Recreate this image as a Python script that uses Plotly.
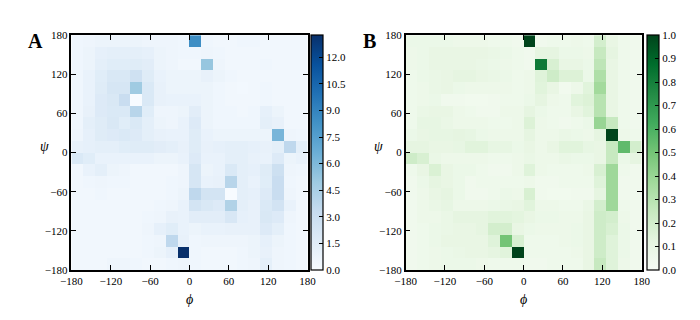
import numpy as np
import plotly.graph_objects as go

# bin edges (deg) and tick positions
phi_edges = np.linspace(-180, 180, 21)
psi_edges = np.linspace(-180, 180, 21)
tick_vals = [-180, -120, -60, 0, 60, 120, 180]

# panel A: counts, rows listed top (psi 162..180) to bottom (psi -180..-162)
counts_a = [
    [0.5, 0.6, 0.75, 0.75, 0.75, 0.75, 0.6, 0.6, 0.6, 0.5, 8.5, 0.5, 0.4, 0.4, 0.5, 0.5, 0.4, 0.4, 0.4, 0.4],
    [0.5, 0.75, 1.1, 1.25, 1.25, 1.25, 1.1, 0.75, 0.6, 0.5, 0.5, 0.6, 0.5, 0.4, 0.4, 0.4, 0.4, 0.4, 0.4, 0.4],
    [0.5, 0.75, 1.25, 1.5, 1.5, 1.6, 1.4, 0.75, 0.6, 0.4, 0.4, 5.2, 0.6, 0.4, 0.4, 0.4, 0.5, 0.4, 0.4, 0.4],
    [0.5, 0.9, 1.5, 2.0, 2.0, 2.7, 1.6, 0.9, 0.75, 0.75, 0.75, 1.0, 0.75, 0.5, 0.4, 0.4, 0.4, 0.4, 0.4, 0.4],
    [0.5, 0.9, 1.6, 2.2, 2.2, 4.9, 1.9, 1.0, 0.75, 0.75, 0.75, 0.75, 0.5, 0.4, 0.3, 0.4, 0.5, 0.4, 0.4, 0.4],
    [0.5, 0.9, 1.75, 2.0, 3.1, 0.0, 1.9, 1.0, 0.9, 0.9, 0.9, 0.75, 0.5, 0.4, 0.4, 0.4, 0.5, 0.4, 0.4, 0.4],
    [0.5, 1.0, 1.75, 1.9, 1.9, 3.9, 1.5, 0.6, 0.6, 0.75, 1.4, 0.75, 0.5, 0.5, 0.4, 0.5, 1.1, 0.75, 0.4, 0.4],
    [0.5, 1.25, 1.6, 2.0, 1.5, 1.9, 1.25, 0.75, 0.6, 0.9, 1.75, 0.75, 0.5, 0.5, 0.5, 0.5, 1.25, 1.0, 0.4, 0.4],
    [0.6, 1.1, 1.6, 1.75, 1.9, 1.75, 1.25, 1.0, 0.9, 0.9, 1.6, 0.9, 0.75, 0.75, 0.75, 0.75, 0.75, 6.2, 0.6, 0.5],
    [1.0, 1.1, 1.25, 1.25, 1.5, 1.6, 1.6, 1.4, 1.25, 1.0, 1.6, 1.0, 1.1, 1.25, 1.25, 1.1, 1.0, 1.25, 3.6, 1.25],
    [1.9, 1.5, 0.9, 0.9, 0.9, 0.9, 0.9, 0.75, 0.75, 0.9, 1.75, 0.9, 0.9, 1.25, 1.25, 1.0, 0.9, 1.75, 0.75, 0.9],
    [0.4, 0.9, 1.25, 0.75, 0.6, 0.4, 0.4, 0.4, 0.4, 0.6, 2.2, 0.75, 0.9, 1.9, 1.25, 1.1, 1.6, 2.8, 0.6, 0.5],
    [0.4, 0.5, 0.6, 0.5, 0.5, 0.4, 0.4, 0.4, 0.5, 0.6, 2.2, 0.9, 1.0, 3.9, 1.25, 0.9, 1.5, 3.1, 0.5, 0.4],
    [0.4, 0.4, 0.5, 0.4, 0.4, 0.4, 0.4, 0.4, 0.5, 0.75, 3.6, 2.4, 2.4, 0.0, 1.25, 1.1, 1.75, 3.1, 0.6, 0.4],
    [0.4, 0.4, 0.4, 0.4, 0.4, 0.4, 0.4, 0.5, 0.6, 0.9, 2.4, 2.0, 1.75, 4.2, 1.25, 1.0, 1.9, 2.5, 0.9, 0.4],
    [0.4, 0.4, 0.4, 0.4, 0.4, 0.4, 0.5, 0.6, 1.0, 0.9, 1.4, 1.4, 1.4, 2.1, 1.1, 1.0, 2.0, 1.75, 0.6, 0.4],
    [0.4, 0.4, 0.4, 0.4, 0.4, 0.4, 0.6, 1.1, 1.5, 0.9, 0.75, 0.9, 0.9, 1.0, 1.0, 1.0, 1.75, 1.25, 0.5, 0.4],
    [0.4, 0.4, 0.4, 0.4, 0.4, 0.4, 0.5, 0.6, 3.6, 1.0, 0.5, 0.6, 0.6, 0.6, 0.6, 0.75, 1.1, 0.75, 0.5, 0.4],
    [0.4, 0.4, 0.4, 0.4, 0.4, 0.4, 0.5, 0.75, 1.1, 13.25, 0.5, 0.4, 0.4, 0.4, 0.5, 0.75, 1.0, 0.6, 0.5, 0.4],
    [0.4, 0.4, 0.4, 0.6, 0.6, 0.5, 0.4, 0.4, 0.5, 0.6, 0.5, 0.4, 0.4, 0.4, 0.5, 0.6, 1.25, 0.6, 0.5, 0.4],
]

# panel B: normalised values, same row order
counts_b = [
    [0.08, 0.08, 0.08, 0.08, 0.07, 0.07, 0.07, 0.06, 0.06, 0.05, 1.00, 0.05, 0.06, 0.06, 0.07, 0.06, 0.20, 0.10, 0.06, 0.05],
    [0.07, 0.08, 0.10, 0.10, 0.10, 0.10, 0.10, 0.09, 0.08, 0.06, 0.05, 0.12, 0.12, 0.08, 0.08, 0.07, 0.25, 0.12, 0.06, 0.05],
    [0.07, 0.08, 0.10, 0.10, 0.10, 0.10, 0.09, 0.08, 0.07, 0.06, 0.05, 0.82, 0.18, 0.10, 0.10, 0.08, 0.28, 0.10, 0.06, 0.05],
    [0.06, 0.08, 0.09, 0.10, 0.12, 0.12, 0.10, 0.09, 0.08, 0.06, 0.07, 0.15, 0.22, 0.16, 0.16, 0.08, 0.33, 0.10, 0.06, 0.05],
    [0.06, 0.07, 0.09, 0.10, 0.08, 0.07, 0.07, 0.07, 0.07, 0.06, 0.07, 0.14, 0.10, 0.04, 0.07, 0.14, 0.37, 0.10, 0.06, 0.05],
    [0.06, 0.07, 0.08, 0.05, 0.05, 0.04, 0.04, 0.05, 0.06, 0.06, 0.08, 0.12, 0.07, 0.06, 0.14, 0.16, 0.30, 0.10, 0.06, 0.05],
    [0.06, 0.09, 0.10, 0.10, 0.07, 0.06, 0.05, 0.05, 0.07, 0.07, 0.12, 0.08, 0.06, 0.06, 0.10, 0.14, 0.30, 0.10, 0.06, 0.05],
    [0.06, 0.11, 0.11, 0.09, 0.07, 0.07, 0.07, 0.06, 0.06, 0.07, 0.16, 0.07, 0.06, 0.05, 0.06, 0.08, 0.40, 0.25, 0.06, 0.05],
    [0.08, 0.10, 0.11, 0.11, 0.12, 0.11, 0.08, 0.07, 0.07, 0.07, 0.12, 0.07, 0.07, 0.09, 0.08, 0.07, 0.12, 1.00, 0.07, 0.06],
    [0.12, 0.12, 0.10, 0.10, 0.11, 0.14, 0.14, 0.11, 0.11, 0.08, 0.10, 0.07, 0.10, 0.14, 0.14, 0.11, 0.10, 0.25, 0.55, 0.20],
    [0.22, 0.18, 0.09, 0.07, 0.07, 0.07, 0.07, 0.06, 0.06, 0.07, 0.09, 0.07, 0.07, 0.09, 0.08, 0.08, 0.10, 0.25, 0.08, 0.12],
    [0.06, 0.10, 0.17, 0.10, 0.08, 0.08, 0.06, 0.05, 0.05, 0.07, 0.15, 0.07, 0.06, 0.06, 0.06, 0.07, 0.18, 0.38, 0.06, 0.05],
    [0.05, 0.08, 0.12, 0.10, 0.08, 0.05, 0.06, 0.06, 0.06, 0.06, 0.07, 0.05, 0.05, 0.06, 0.06, 0.06, 0.15, 0.38, 0.05, 0.05],
    [0.05, 0.07, 0.10, 0.12, 0.08, 0.05, 0.05, 0.06, 0.08, 0.07, 0.18, 0.05, 0.04, 0.04, 0.05, 0.05, 0.12, 0.38, 0.05, 0.05],
    [0.05, 0.07, 0.09, 0.11, 0.07, 0.07, 0.07, 0.08, 0.09, 0.10, 0.14, 0.07, 0.07, 0.06, 0.06, 0.09, 0.20, 0.38, 0.06, 0.05],
    [0.05, 0.07, 0.07, 0.09, 0.12, 0.12, 0.12, 0.14, 0.14, 0.13, 0.10, 0.08, 0.08, 0.07, 0.07, 0.10, 0.22, 0.20, 0.07, 0.05],
    [0.05, 0.06, 0.08, 0.09, 0.10, 0.10, 0.12, 0.20, 0.20, 0.10, 0.08, 0.07, 0.07, 0.07, 0.08, 0.10, 0.22, 0.18, 0.08, 0.05],
    [0.05, 0.06, 0.08, 0.10, 0.10, 0.10, 0.10, 0.15, 0.50, 0.18, 0.06, 0.06, 0.06, 0.07, 0.08, 0.10, 0.22, 0.15, 0.08, 0.05],
    [0.05, 0.06, 0.07, 0.08, 0.09, 0.10, 0.10, 0.12, 0.14, 1.00, 0.06, 0.06, 0.06, 0.06, 0.07, 0.10, 0.22, 0.15, 0.08, 0.05],
    [0.05, 0.06, 0.07, 0.08, 0.08, 0.08, 0.07, 0.06, 0.06, 0.06, 0.05, 0.05, 0.06, 0.06, 0.06, 0.10, 0.25, 0.15, 0.07, 0.05],
]

cbar_a_ticks = [0.0, 1.5, 3.0, 4.5, 6.0, 7.5, 9.0, 10.5, 12.0]
cbar_b_ticks = [0.0, 0.1, 0.2, 0.3, 0.4, 0.5, 0.6, 0.7, 0.8, 0.9, 1.0]

FONT = "Liberation Serif"
W, H = 700, 320


def px_x(p):
    return p / W


def px_y(p):
    return 1 - p / H


# plot boxes in pixels (left, right, top, bottom)
box_a = (54, 297, 22, 266)
box_b = (398, 641, 22, 266)
cbar_a_left = 301
cbar_b_left = 646
cbar_w = 12

fig = go.Figure()

panels = [
    ("x", "y", counts_a, "Blues", 13.25, box_a, cbar_a_left, cbar_a_ticks),
    ("x2", "y2", counts_b, "Greens", 1.0, box_b, cbar_b_left, cbar_b_ticks),
]

for xa, ya, z, cmap, zmax, box, cb_left, cb_ticks in panels:
    fig.add_trace(
        go.Heatmap(
            x=phi_edges,
            y=psi_edges,
            z=z[::-1],
            xaxis=xa,
            yaxis=ya,
            colorscale=cmap,
            zmin=0,
            zmax=zmax,
            colorbar=dict(
                x=px_x(cb_left),
                xanchor="left",
                xref="paper",
                y=px_y(box[3]),
                yanchor="bottom",
                len=(box[3] - box[2]) / H,
                lenmode="fraction",
                thickness=cbar_w,
                thicknessmode="pixels",
                outlinecolor="black",
                outlinewidth=1.2,
                tickvals=cb_ticks,
                tickformat=".1f",
                ticks="inside",
                ticklen=4,
                tickcolor="black",
                tickfont=dict(family=FONT, size=11, color="black"),
                xpad=0,
                ypad=0,
            ),
            hoverinfo="skip",
        )
    )

axis_common = dict(
    range=[-180, 180],
    tickvals=tick_vals,
    ticks="inside",
    ticklen=5,
    tickcolor="black",
    showline=True,
    linecolor="black",
    linewidth=1.5,
    mirror="ticks",
    showgrid=False,
    zeroline=False,
    tickfont=dict(family=FONT, size=11, color="black"),
)

fig.update_layout(
    width=W,
    height=H,
    margin=dict(l=0, r=0, t=0, b=0),
    paper_bgcolor="white",
    plot_bgcolor="white",
    xaxis=dict(domain=[px_x(box_a[0]), px_x(box_a[1])], anchor="y", **axis_common),
    yaxis=dict(domain=[px_y(box_a[3]), px_y(box_a[2])], anchor="x", **axis_common),
    xaxis2=dict(domain=[px_x(box_b[0]), px_x(box_b[1])], anchor="y2", **axis_common),
    yaxis2=dict(domain=[px_y(box_b[3]), px_y(box_b[2])], anchor="x2", **axis_common),
    showlegend=False,
)

# panel letters and axis symbols
labels = [
    ("<b>A</b>", 17, 28, 20),
    ("<b>B</b>", 361, 28, 20),
    ("<i>ϕ</i>", 175, 297, 14),
    ("<i>ϕ</i>", 519, 297, 14),
    ("<i>ψ</i>", 26, 138, 14),
    ("<i>ψ</i>", 370, 138, 14),
]
for text, x, y, size in labels:
    fig.add_annotation(
        text=text,
        x=px_x(x),
        y=px_y(y),
        xref="paper",
        yref="paper",
        showarrow=False,
        xanchor="center",
        yanchor="middle",
        font=dict(family=FONT, size=size, color="black"),
    )

fig.write_html("out.html")
